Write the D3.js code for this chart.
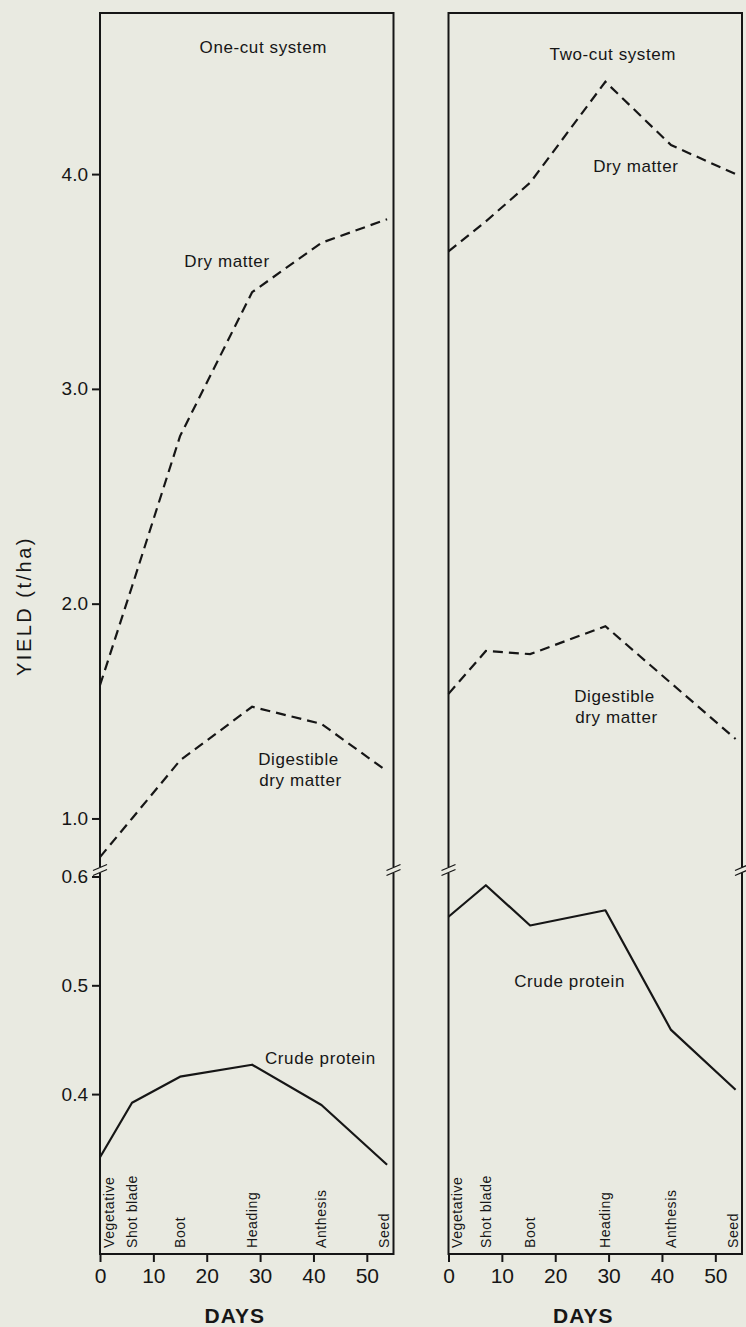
<!DOCTYPE html>
<html>
<head>
<meta charset="utf-8">
<script src="https://cdn.jsdelivr.net/npm/d3@7"></script>
<style>
  html, body { margin: 0; padding: 0; background: #e9eae1; }
  svg { display: block; }
  text { font-family: "Liberation Sans", Arial, sans-serif; fill: #161616; }
</style>
</head>
<body>
<script>
// ---------- DATA ----------
const stages = ["Vegetative", "Shot blade", "Boot", "Heading", "Anthesis", "Seed"];
const daysOneCut = [0, 6, 15, 28.5, 41.5, 53.8];
const daysTwoCut = [0, 7, 15.3, 29.4, 41.7, 53.8];
const dryMatterOneCut = [1.62, 2.08, 2.78, 3.45, 3.68, 3.79];
const digestibleOneCut = [0.82, 1.00, 1.27, 1.52, 1.44, 1.22];
const crudeProteinOneCut = [0.342, 0.392, 0.416, 0.427, 0.390, 0.335];
const dryMatterTwoCut = [3.64, 3.78, 3.96, 4.43, 4.135, 4.00];
const digestibleTwoCut = [1.58, 1.78, 1.765, 1.895, 1.63, 1.37];
const crudeProteinTwoCut = [0.563, 0.592, 0.555, 0.569, 0.459, 0.404];
const xTickValues = [0, 10, 20, 30, 40, 50];
const yTicksUpper = [1.0, 2.0, 3.0, 4.0];
const yTicksLower = [0.4, 0.5, 0.6];

// ---------- LAYOUT ----------
const W = 746, H = 1327;
const plotTop = 13, brk = 870, plotBottom = 1254;
const bg = "#e9eae1";
const svg = d3.select("body").append("svg").attr("width", W).attr("height", H);

const yUp = d3.scaleLinear().domain([0.76, 4.75]).range([brk, plotTop]);
const yLo = d3.scaleLinear().domain([0.253, 0.606]).range([plotBottom, brk]);

const panels = [
  { title: "One-cut system", x0: 100, x1: 393.5, days: daysOneCut,
    dm: dryMatterOneCut, ddm: digestibleOneCut, cp: crudeProteinOneCut, yAxis: true,
    titlePos: [30.6, 53],
    dmLab: [23.8, 3.568], ddmLab: [37.2, 1.249], cpLab: [41.3, 0.4277] },
  { title: "Two-cut system", x0: 448.5, x1: 742, days: daysTwoCut,
    dm: dryMatterTwoCut, ddm: digestibleTwoCut, cp: crudeProteinTwoCut, yAxis: false,
    titlePos: [30.8, 60],
    dmLab: [35.1, 4.011], ddmLab: [31.1, 1.543], cpLab: [22.7, 0.4987] }
];

const ink = "#161616";
const FONT = '"Liberation Sans", Arial, sans-serif';

panels.forEach(p => {
  const x = d3.scaleLinear().domain([0, 55]).range([p.x0, p.x1]);
  const g = svg.append("g");

  // frame
  g.append("rect").attr("x", p.x0).attr("y", plotTop)
    .attr("width", p.x1 - p.x0).attr("height", plotBottom - plotTop)
    .attr("fill", "none").attr("stroke", ink).attr("stroke-width", 2);

  // x axis
  const xa = g.append("g").attr("transform", `translate(0,${plotBottom})`)
    .call(d3.axisBottom(x).tickValues(xTickValues).tickSize(8).tickPadding(6).tickFormat(d3.format("d")));
  xa.select(".domain").remove();
  xa.selectAll("line").attr("stroke", ink).attr("stroke-width", 2);
  xa.selectAll("text").attr("font-size", 21).attr("fill", ink).style("font-family", FONT);

  // y axes
  if (p.yAxis) {
    [[yUp, yTicksUpper], [yLo, yTicksLower]].forEach(([sc, tv]) => {
      const ya = g.append("g").attr("transform", `translate(${p.x0},0)`)
        .call(d3.axisLeft(sc).tickValues(tv).tickSize(8).tickPadding(4).tickFormat(d3.format(".1f")));
      ya.select(".domain").remove();
      ya.selectAll("line").attr("stroke", ink).attr("stroke-width", 2);
      ya.selectAll("text").attr("font-size", 19).attr("fill", ink).style("font-family", FONT);
    });
  }

  // break marks on both edges
  [p.x0, p.x1].forEach(ex => {
    g.append("rect").attr("x", ex - 6).attr("y", brk - 3).attr("width", 12).attr("height", 6)
      .attr("fill", bg);
    [-2.5, 2.5].forEach(o => {
      g.append("line").attr("x1", ex - 7).attr("y1", brk + o + 3).attr("x2", ex + 7).attr("y2", brk + o - 3)
        .attr("stroke", ink).attr("stroke-width", 1.3);
    });
  });

  // lines
  const lineUp = d3.line().x(d => x(d[0])).y(d => yUp(d[1]));
  const lineLo = d3.line().x(d => x(d[0])).y(d => yLo(d[1]));
  const zip = vals => p.days.map((d, i) => [d, vals[i]]);

  g.append("path").attr("d", lineUp(zip(p.dm))).attr("fill", "none")
    .attr("stroke", ink).attr("stroke-width", 2.2).attr("stroke-dasharray", "10,6");
  g.append("path").attr("d", lineUp(zip(p.ddm))).attr("fill", "none")
    .attr("stroke", ink).attr("stroke-width", 2.2).attr("stroke-dasharray", "10,6");
  g.append("path").attr("d", lineLo(zip(p.cp))).attr("fill", "none")
    .attr("stroke", ink).attr("stroke-width", 2.2).attr("stroke-linejoin", "round");

  // labels
  const lab = (txt, xx, yy) => g.append("text").attr("x", xx).attr("y", yy)
    .attr("text-anchor", "middle").attr("font-size", 17).attr("letter-spacing", 0.6).text(txt);
  lab(p.title, x(p.titlePos[0]), p.titlePos[1]);
  lab("Dry matter", x(p.dmLab[0]), yUp(p.dmLab[1]));
  lab("Digestible", x(p.ddmLab[0]), yUp(p.ddmLab[1]));
  lab("dry matter", x(p.ddmLab[0]) + 2, yUp(p.ddmLab[1]) + 21);
  lab("Crude protein", x(p.cpLab[0]), yLo(p.cpLab[1]));

  // stage labels (rotated)
  stages.forEach((s, i) => {
    const cx = Math.max(p.x0 + 9, Math.min(p.x1 - 9, x(p.days[i])));
    g.append("text")
      .attr("transform", `translate(${cx},${plotBottom - 6}) rotate(-90)`)
      .attr("dy", "0.35em").attr("font-size", 14).attr("letter-spacing", 0.6)
      .text(s);
  });

  // DAYS
  g.append("text").attr("x", (p.x0 + p.x1) / 2 - 12).attr("y", 1323)
    .attr("text-anchor", "middle").attr("font-size", 21).attr("font-weight", "bold")
    .attr("letter-spacing", 1).text("DAYS");
});

// Y axis title
svg.append("text").attr("transform", `translate(31,606) rotate(-90)`)
  .attr("text-anchor", "middle").attr("font-size", 20).attr("letter-spacing", 2.5)
  .text("YIELD (t/ha)");
</script>
</body>
</html>
